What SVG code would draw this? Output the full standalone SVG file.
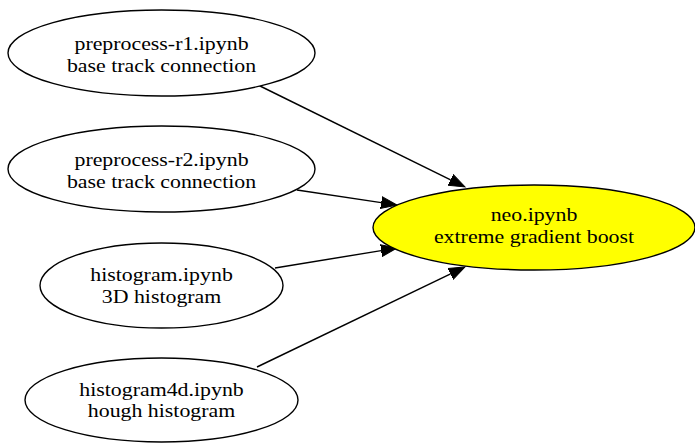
<svg xmlns="http://www.w3.org/2000/svg" width="695" height="444" viewBox="0 0 695 444">
<style>
.n ellipse{fill:#fff;stroke:#000;stroke-width:1.4}
.n text{font-family:"Liberation Serif","Times New Roman",serif;font-size:19px;text-anchor:middle;fill:#000}
.e path{fill:none;stroke:#000;stroke-width:1.4}
</style>
<defs>
<marker id="ah" markerUnits="userSpaceOnUse" markerWidth="18" markerHeight="14" refX="0" refY="6" orient="auto" viewBox="0 0 18 12">
<polygon points="0,0 16,6 0,12" fill="#000" stroke="#000" stroke-width="1"/>
</marker>
</defs>
<rect width="695" height="444" fill="#fff"/>
<g class="e" id="edges">
<path d="M258,85 L450.6,179.9" marker-end="url(#ah)"/>
<path d="M297,190 L381.2,202.6" marker-end="url(#ah)"/>
<path d="M275,268 L381.2,250.6" marker-end="url(#ah)"/>
<path d="M257,367 L450.6,273.9" marker-end="url(#ah)"/>
</g>
<g class="n" id="n1">
<ellipse cx="161.5" cy="53" rx="153.5" ry="43"/>
<g transform="translate(161.5,0) scale(1.15,1)">
<text x="0" y="50.5">preprocess-r1.ipynb</text>
<text x="0" y="72">base track connection</text>
</g>
</g>
<g class="n" id="n2">
<ellipse cx="161.5" cy="169" rx="153.5" ry="43"/>
<g transform="translate(161.5,0) scale(1.15,1)">
<text x="0" y="166.5">preprocess-r2.ipynb</text>
<text x="0" y="188">base track connection</text>
</g>
</g>
<g class="n" id="n3">
<ellipse cx="161.5" cy="285.5" rx="121.5" ry="42.5"/>
<g transform="translate(161.5,0) scale(1.15,1)">
<text x="0" y="281.5">histogram.ipynb</text>
<text x="0" y="303">3D histogram</text>
</g>
</g>
<g class="n" id="n4">
<ellipse cx="161.5" cy="400" rx="136.5" ry="42"/>
<g transform="translate(161.5,0) scale(1.15,1)">
<text x="0" y="396">histogram4d.ipynb</text>
<text x="0" y="417.5">hough histogram</text>
</g>
</g>
<g class="n" id="neo">
<ellipse cx="534" cy="227.5" rx="161" ry="42.5" style="fill:#ffff00"/>
<g transform="translate(534,0) scale(1.15,1)">
<text x="0" y="221.5">neo.ipynb</text>
<text x="0" y="243">extreme gradient boost</text>
</g>
</g>
</svg>
